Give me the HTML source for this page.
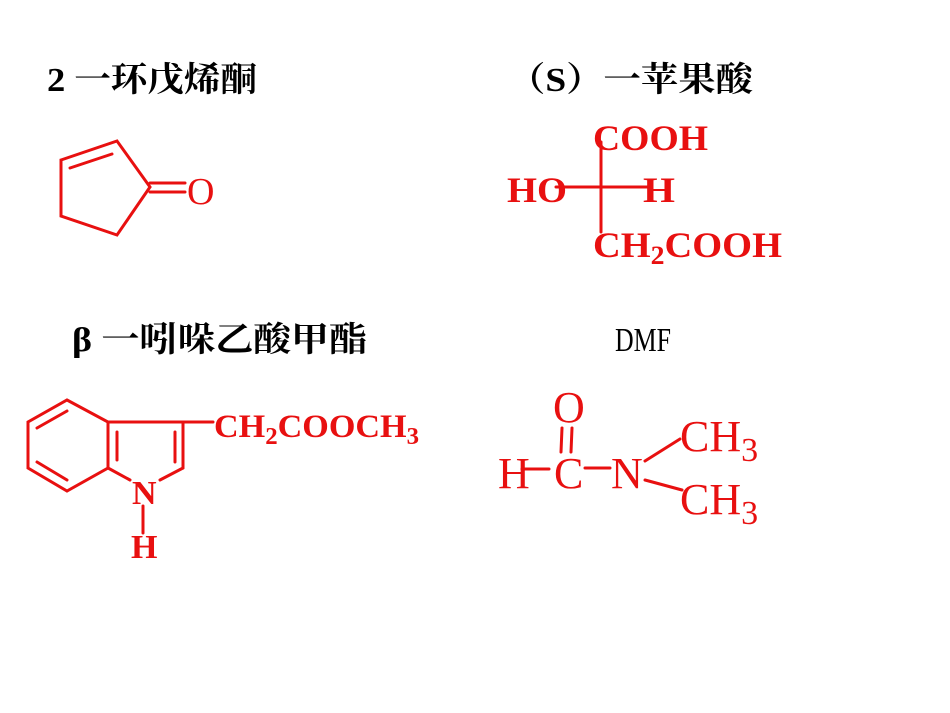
<!DOCTYPE html>
<html><head><meta charset="utf-8"><style>html,body{margin:0;padding:0;background:#fff;}svg{display:block}</style></head>
<body>
<svg width="950" height="713" viewBox="0 0 950 713" xmlns="http://www.w3.org/2000/svg">
<g font-family="'Liberation Serif','Noto Serif CJK SC',serif" font-weight="bold" fill="#000" font-size="34">
<text x="47" y="91" textLength="210" lengthAdjust="spacingAndGlyphs">2 一环戊烯酮</text>
<text x="508" y="91" textLength="245" lengthAdjust="spacingAndGlyphs">（S）一苹果酸</text>
<text x="72" y="351" textLength="295" lengthAdjust="spacingAndGlyphs">β 一吲哚乙酸甲酯</text>
<text x="615" y="351" textLength="56" lengthAdjust="spacingAndGlyphs" font-weight="normal">DMF</text>
</g>
<g stroke="#e81010" stroke-width="3" fill="none" stroke-linecap="round">
<polygon points="61,160 117,141 150,187 117,235 61,216"/>
<line x1="70" y1="168" x2="112" y2="154"/>
<line x1="150" y1="183" x2="185" y2="183"/>
<line x1="150" y1="192" x2="185" y2="192"/>
<line x1="601" y1="142" x2="601" y2="232"/>
<line x1="556" y1="187" x2="648" y2="187"/>
<polygon points="67,400 108,422 108,468 67,491 28,468 28,422"/>
<line x1="37" y1="428" x2="67" y2="411"/>
<line x1="37" y1="462" x2="67" y2="480"/>
<line x1="108" y1="422" x2="183" y2="422"/>
<line x1="183" y1="422" x2="183" y2="468"/>
<line x1="183" y1="468" x2="160" y2="480"/>
<line x1="108" y1="468" x2="130" y2="480"/>
<line x1="117" y1="432" x2="117" y2="460"/>
<line x1="175" y1="432" x2="175" y2="462"/>
<line x1="183" y1="422" x2="213" y2="422"/>
<line x1="143" y1="506" x2="143" y2="533"/>
<line x1="562" y1="428" x2="561" y2="452"/>
<line x1="572" y1="428" x2="571" y2="452"/>
<line x1="522" y1="469" x2="549" y2="469"/>
<line x1="585" y1="468" x2="610" y2="468"/>
<line x1="645" y1="461" x2="680" y2="439"/>
<line x1="645" y1="480" x2="682" y2="490"/>
</g>
<g font-family="'Liberation Serif',serif" fill="#e81010">
<text x="187" y="204" font-size="38">O</text>
<g font-weight="bold" font-size="36">
<text x="593" y="150" textLength="115" lengthAdjust="spacingAndGlyphs">COOH</text>
<text x="507" y="202" textLength="60" lengthAdjust="spacingAndGlyphs">HO</text>
<text x="643" y="202" textLength="32" lengthAdjust="spacingAndGlyphs">H</text>
<text x="593" y="257" textLength="189" lengthAdjust="spacingAndGlyphs">CH<tspan font-size="26" dy="7">2</tspan><tspan dy="-7">COOH</tspan></text>
</g>
<g font-weight="bold" font-size="33">
<text x="214" y="437" textLength="205" lengthAdjust="spacingAndGlyphs">CH<tspan font-size="24" dy="7">2</tspan><tspan dy="-7">COOCH</tspan><tspan font-size="24" dy="7">3</tspan></text>
<text x="132" y="504" font-size="34">N</text>
<text x="131" y="558" font-size="34">H</text>
</g>
<g font-size="44">
<text x="553" y="422">O</text>
<text x="498" y="488">H</text>
<text x="554" y="488">C</text>
<text x="611" y="488">N</text>
<text x="680" y="451">CH<tspan font-size="34" dy="10">3</tspan></text>
<text x="680" y="514">CH<tspan font-size="34" dy="10">3</tspan></text>
</g>
</g>
</svg>
</body></html>
